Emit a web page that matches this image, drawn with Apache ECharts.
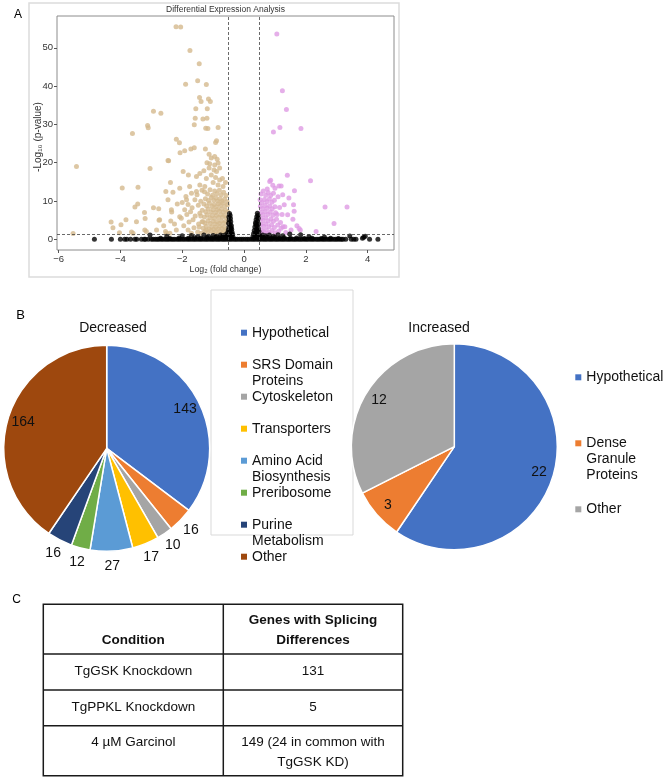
<!DOCTYPE html>
<html><head><meta charset="utf-8">
<script src="https://cdn.jsdelivr.net/npm/echarts@6/dist/echarts.min.js"></script>
<style>html,body{margin:0;padding:0;background:#fff}#chart{width:664px;height:779px}</style>
</head><body><div id="chart"></div>
<script>
// ---------- Panel A: volcano plot data (log2 fold change, -log10 p) ----------
const downPoints = [
[-5.42,19.0],[-5.53,1.5],[-2.93,33.4],[-2.69,32.9],[-3.12,29.7],[-3.10,29.1],[-3.61,27.6],
[-2.44,20.5],[-3.04,18.5],[-3.94,13.4],[-3.43,13.6],[-2.53,12.5],[-3.44,9.2],[-3.53,8.4],
[-2.93,8.2],[-2.76,8.0],[-3.22,7.0],[-3.82,5.1],[-4.30,4.5],[-3.20,5.4],[-3.48,4.6],[-3.98,3.8],
[-4.24,3.0],[-3.64,1.9],[-3.59,1.6],[-4.03,1.7],[-3.21,2.4],[-2.75,5.0],[-2.37,4.8],[-2.34,7.1],
[-2.54,2.0],[-2.51,1.6],[-3.16,2.0],[-2.83,2.4],[-2.73,5.1],[-2.46,10.3],
[-2.20,55.5],[-2.05,55.4],[-1.75,49.3],[-1.45,45.8],[-1.89,40.5],[-1.50,41.4],[-1.22,40.4],
[-1.44,37.0],[-1.39,36.0],[-1.15,36.6],[-1.09,36.0],[-1.56,34.1],[-1.19,34.1],[-1.58,31.6],
[-1.33,31.4],[-1.20,31.6],[-1.61,29.9],[-1.24,29.0],[-1.17,28.9],[-0.84,29.2],[-2.19,26.1],
[-2.09,25.2],[-0.89,25.7],[-0.92,25.3],[-1.72,23.6],[-1.61,23.9],[-2.07,22.6],[-1.92,23.1],
[-1.25,23.6],[-1.13,22.2],[-2.46,20.6],[-1.06,21.2],[-0.95,21.6],[-0.87,20.9],[-1.20,20.0],
[-1.11,19.7],[-0.95,19.4],[-0.84,19.9],[-1.97,17.7],[-1.43,17.2],[-1.30,17.9],[-1.13,18.6],
[-0.97,18.1],[-0.89,17.7],[-0.79,18.6],[-1.80,16.8],[-1.54,16.4],[-1.22,15.9],[-1.06,16.8],
[-0.92,16.1],[-0.79,15.5],[-0.70,15.9],[-2.38,14.8],[-2.08,13.3],[-1.76,13.8],[-1.43,14.2],
[-1.27,13.8],[-1.00,14.8],[-0.84,14.2],[-0.68,13.8],[-0.60,14.8],
[-2.30,12.3],[-2.16,9.2],[-1.86,10.3],[-1.81,9.1],[-1.73,7.2],[-1.59,10.3],[-1.54,12.5],
[-1.48,8.9],[-2.35,7.7],[-2.03,5.5],[-2.19,2.4],[-1.81,2.4],[-1.65,5.1],[-1.43,6.8],[-1.33,4.6],
[-1.22,2.4],[-1.70,1.6],[-2.40,1.6],[-2.08,5.9],[-1.92,7.7],
[-1.95,3.5],[-1.88,11.2],[-1.68,8.2],[-1.62,3.0],[-1.58,6.1],[-1.52,11.6],[-1.47,4.0],
[-1.40,9.9],[-1.36,12.8],[-1.70,12.0],[-1.78,4.5],[-2.00,9.6],[-2.25,4.0],[-2.60,3.5],[-1.85,6.5],
[-1.28,12.4],[-1.18,11.8],[-1.10,12.9],[-1.02,11.5],[-0.95,12.6],[-0.88,11.9],[-0.80,12.8],
[-0.74,11.6],[-0.66,12.3],[-0.58,11.4],
[-1.25,10.6],[-1.15,10.1],[-1.06,10.9],[-0.98,10.2],[-0.91,10.8],[-0.85,10.0],[-0.78,10.6],
[-0.71,9.9],[-0.63,10.5],[-0.55,9.8],
[-1.30,9.2],[-1.21,8.7],[-1.12,9.4],[-1.04,8.6],[-0.97,9.1],[-0.90,8.5],[-0.83,9.3],[-0.76,8.8],
[-0.69,9.5],[-0.62,8.6],[-0.54,9.0],
[-1.35,7.6],[-1.24,7.2],[-1.16,7.9],[-1.08,7.1],[-1.00,7.7],[-0.93,7.0],[-0.86,7.8],[-0.80,7.3],
[-0.73,7.9],[-0.67,7.1],[-0.60,7.6],[-0.53,7.2],
[-1.40,6.1],[-1.28,5.8],[-1.19,6.4],[-1.11,5.6],[-1.03,6.2],[-0.96,5.5],[-0.89,6.3],[-0.82,5.7],
[-0.75,6.4],[-0.69,5.8],[-0.62,6.2],[-0.56,5.6],
[-1.36,4.6],[-1.26,4.2],[-1.17,4.8],[-1.09,4.1],[-1.01,4.7],[-0.94,4.0],[-0.87,4.6],[-0.80,4.1],
[-0.73,4.8],[-0.66,4.2],[-0.59,4.7],[-0.52,4.3],
[-1.45,3.2],[-1.32,2.9],[-1.22,3.4],[-1.13,2.7],[-1.05,3.3],[-0.98,2.6],[-0.91,3.2],[-0.84,2.7],
[-0.78,3.4],[-0.71,2.8],[-0.64,3.3],[-0.57,2.6],
[-1.50,1.9],[-1.38,1.6],[-1.27,2.1],[-1.16,1.7],[-1.07,2.2],[-0.99,1.6],[-0.92,2.0],[-0.85,1.5],
[-0.78,2.1],[-0.71,1.6],[-0.65,2.0],[-0.58,1.5],[-0.52,1.9]
];
const upPoints = [
[1.06,53.6],[1.24,38.8],[1.37,33.9],[0.95,28.0],[1.16,29.2],[1.84,28.9],[1.40,16.7],[2.15,15.3],
[0.83,15.1],[0.86,15.4],[0.93,14.1],[1.13,13.9],[1.20,13.9],[1.63,12.7],[2.62,8.4],[3.33,8.4],
[2.91,4.1],[2.33,2.0],[1.60,9.0],[1.62,7.3],[1.58,5.2],[1.82,2.4],[1.71,3.5],[1.78,2.8],[1.41,6.4],
[1.10,11.1],[1.07,6.5],[1.23,6.5],[1.26,3.3],[1.32,3.3],
[0.55,11.8],[0.62,12.6],[0.70,11.5],[0.78,12.2],[0.86,11.4],[0.95,12.0],
[0.52,10.3],[0.58,9.6],[0.66,10.4],[0.74,9.8],[0.82,10.5],[0.90,9.7],[0.98,10.2],
[0.53,8.6],[0.60,8.0],[0.68,8.8],[0.75,8.1],[0.83,8.7],[0.91,8.0],[1.00,8.5],[1.15,8.3],
[0.54,7.0],[0.61,6.4],[0.69,7.2],[0.77,6.5],[0.85,7.1],[0.93,6.3],[1.02,6.9],
[0.55,5.4],[0.62,4.9],[0.70,5.6],[0.78,4.8],[0.87,5.3],[0.95,4.7],[1.05,5.2],[1.18,4.4],
[0.56,3.9],[0.63,3.4],[0.71,4.0],[0.80,3.3],[0.89,3.8],[0.98,3.1],[1.09,3.7],[1.20,2.9],
[0.57,2.4],[0.64,1.9],[0.72,2.5],[0.81,1.8],[0.90,2.3],[1.00,1.7],[1.12,2.1],[1.35,1.8],[1.52,2.4],
[0.60,1.5],[0.76,1.4],[1.30,9.0],[1.45,10.8],[1.25,11.6],[0.75,13.1],[1.00,13.3]
];
const nsPoints = [
[-4.84,0],[-4.29,0],[-4.00,0],[-3.86,0],[-3.79,0],[-3.67,0],[-3.53,0],[-3.47,0],[-3.32,0],[-3.23,0],
[-3.19,0],[-3.10,0],[-3.04,1.1],
[-3.00,0],[-2.94,0],[-2.87,0],[-2.81,0],[-2.75,0],[-2.68,0],[-2.62,0],[-2.55,0],[-2.49,0],[-2.43,0],
[-2.36,0],[-2.30,0],[-2.24,0],[-2.17,0],[-2.11,0],[-2.05,0],[-1.98,0],[-1.92,0],[-1.85,0],[-1.79,0],
[-1.73,0],[-1.66,0],[-1.60,0],[-1.54,0],[-1.47,0],[-1.41,0],[-1.35,0],[-1.28,0],[-1.22,0],[-1.16,0],
[-1.09,0],[-1.03,0],[-0.97,0],[-0.90,0],[-0.84,0],[-0.78,0],[-0.71,0],[-0.65,0],[-0.59,0],[-0.52,0],
[-0.46,0],[-0.40,0],[-0.33,0],[-0.27,0],[-0.21,0],[-0.14,0],[-0.08,0],[-0.02,0],[0.05,0],[0.11,0],
[0.17,0],[0.24,0],[0.30,0],[0.36,0],[0.43,0],[0.49,0],[0.55,0],[0.62,0],[0.68,0],[0.74,0],[0.81,0],
[0.87,0],[0.93,0],[1.00,0],[1.06,0],[1.12,0],[1.19,0],[1.25,0],[1.31,0],[1.38,0],[1.44,0],[1.50,0],
[1.57,0],[1.63,0],[1.69,0],[1.76,0],[1.82,0],[1.88,0],[1.95,0],[2.01,0],[2.07,0],[2.14,0],[2.20,0],
[2.26,0],[2.33,0],[2.39,0],[2.45,0],[2.52,0],[2.58,0],[2.64,0],[2.71,0],[2.77,0],[2.83,0],[2.90,0],
[2.96,0],[3.02,0],[3.09,0],[3.15,0],[3.20,0],[3.29,0],
[-2.70,0.3],[-2.40,0.2],[-2.10,0.35],[-1.80,0.25],[-1.60,0.4],[-1.40,0.3],[-1.20,0.45],[-1.05,0.3],
[-0.92,0.5],[-0.80,0.35],[-0.70,0.55],[-0.62,0.4],[-0.56,0.7],[0.58,0.6],[0.65,0.35],[0.75,0.5],
[0.88,0.3],[1.00,0.45],[1.15,0.25],[1.30,0.4],[1.50,0.3],[1.70,0.35],[1.95,0.2],[2.20,0.3],
[2.50,0.2],[2.80,0.25],[3.05,0.2],
[-2.50,0.8],[-2.00,0.9],[-1.70,1.0],[-1.50,0.7],[-1.30,1.1],[-1.15,0.8],[-1.00,1.0],[-0.88,0.8],
[-0.76,1.1],[-0.68,0.9],[-0.60,1.2],[0.60,1.1],[0.70,0.9],[0.82,1.1],[0.95,0.8],[1.10,1.2],
[1.25,0.9],[1.48,1.4],[1.83,1.2],[2.10,0.7],[2.60,0.6],[3.42,0.86],
[3.47,0],[3.55,0],[3.62,0],[3.83,0.3],[3.87,0.5],[3.92,0.8],[4.06,0],[4.33,0],
[-0.47,6.7],[-0.45,6.2],[-0.49,5.8],[-0.44,5.4],[-0.48,5.0],[-0.43,4.6],[-0.50,4.2],[-0.45,3.9],
[-0.41,3.5],[-0.49,3.2],[-0.44,2.9],[-0.40,2.6],[-0.51,2.4],[-0.46,2.1],[-0.39,1.9],[-0.53,1.7],
[-0.43,1.5],[-0.37,1.3],[-0.50,1.1],[-0.41,0.9],[-0.55,0.6],[-0.36,0.6],[-0.47,0.4],[-0.42,3.0],
[-0.47,1.8],[-0.40,1.1],
[0.43,6.8],[0.45,6.3],[0.41,5.9],[0.46,5.5],[0.39,5.1],[0.44,4.7],[0.37,4.3],[0.47,4.0],[0.41,3.6],
[0.35,3.2],[0.46,2.9],[0.40,2.6],[0.33,2.3],[0.48,2.1],[0.38,1.8],[0.31,1.5],[0.45,1.4],[0.36,1.1],
[0.29,0.8],[0.50,0.9],[0.42,0.6],[0.33,0.4],[0.52,0.4],[0.40,1.3],[0.44,2.4],[0.38,3.9]
];
const fcCutoffs = [-0.5, 0.5];
const pCutoff = 1.3;
const xTicks = [-6, -4, -2, 0, 2, 4];
const yTicks = [0, 10, 20, 30, 40, 50];

// ---------- Panel B: pie data ----------
const decCategories = ['Hypothetical','SRS Domain Proteins','Cytoskeleton','Transporters','Amino Acid Biosynthesis','Preribosome','Purine Metabolism','Other'];
const decValues = [143, 16, 10, 17, 27, 12, 16, 164];
const decLegendText = ['Hypothetical','SRS Domain\nProteins','Cytoskeleton','Transporters','Amino Acid\nBiosynthesis','Preribosome','Purine\nMetabolism','Other'];
const incCategories = ['Hypothetical','Dense Granule Proteins','Other'];
const incValues = [22, 3, 12];
const incLegendText = ['Hypothetical','Dense\nGranule\nProteins','Other'];

// ---------- Panel C: table ----------
const tableHeader = ['Condition', 'Genes with Splicing\nDifferences'];
const tableRows = [
  ['TgGSK Knockdown', '131'],
  ['TgPPKL Knockdown', '5'],
  ['4 µM Garcinol', '149 (24 in common with\nTgGSK KD)']
];

// ---------- styles ----------
const FONT = '"Liberation Sans", Arial, Helvetica, sans-serif';
const decColors = ['#4472C4','#ED7D31','#A5A5A5','#FFC000','#5B9BD5','#70AD47','#264478','#9E480E'];
const incColors = ['#4472C4','#ED7D31','#A5A5A5'];
const TAN = '#D5B98D', PINK = '#DE9BE3';
const LINE_H = 16;

const chart = echarts.init(document.getElementById('chart'), null, {renderer: 'canvas'});

const minus = v => String(v).replace('-', '\u2212');
const decCenter = [106.7, 448.3], incCenter = [454.3, 446.7], R = 103;

function pieData(cats, vals, colors, transparent) {
  return cats.map((n, i) => ({
    name: n, value: vals[i],
    itemStyle: {color: transparent ? 'rgba(0,0,0,0)' : colors[i]}
  }));
}

// Legend text: pad multi-line entries with blank lines above so that the
// first line sits level with the marker (as in the original figure)
function legendDisplay(text) {
  const n = text.split('\n').length;
  return new Array(n - 1).fill(' ').concat(text.split('\n')).join('\n');
}
function legendItems(cats, texts, colors, maxLines, override) {
  return cats.map((n, i) => {
    const lines = texts[i].split('\n').length;
    const pad = (maxLines - lines) * LINE_H;
    const item = {name: n, textStyle: {padding: [pad, 0, pad, 0]}};
    if (override) item.itemStyle = {color: colors[i], borderWidth: 0};
    return item;
  });
}

// table geometry
const tX = [43.3, 223.3, 402.7];
const tY = [604.3, 654, 690, 725.7, 775.7];
const tableGraphics = [];
tableGraphics.push({type: 'rect', shape: {x: tX[0], y: tY[0], width: tX[2] - tX[0], height: tY[4] - tY[0]},
  style: {fill: 'none', stroke: '#1a1a1a', lineWidth: 1.5}, silent: true});
tableGraphics.push({type: 'line', shape: {x1: tX[1], y1: tY[0], x2: tX[1], y2: tY[4]}, style: {stroke: '#1a1a1a', lineWidth: 1.5}, silent: true});
for (let r = 1; r <= 3; r++) {
  tableGraphics.push({type: 'line', shape: {x1: tX[0], y1: tY[r], x2: tX[2], y2: tY[r]}, style: {stroke: '#1a1a1a', lineWidth: 1.5}, silent: true});
}
tableHeader.forEach((h, c) => {
  tableGraphics.push({type: 'text', silent: true, style: {
    text: h, x: (tX[c] + tX[c + 1]) / 2, y: tY[1] - 4, align: 'center', verticalAlign: 'bottom',
    textAlign: 'center', textVerticalAlign: 'bottom', lineHeight: 19.5,
    font: 'bold 13.5px ' + FONT, fill: '#111'}});
});
tableRows.forEach((row, r) => {
  row.forEach((cell, c) => {
    const top = tY[r + 1], bot = tY[r + 2];
    const last = r === tableRows.length - 1;
    tableGraphics.push({type: 'text', silent: true, style: {
      text: cell, x: (tX[c] + tX[c + 1]) / 2,
      y: last ? top + 6.5 : (top + bot) / 2 - 0.5,
      align: 'center', verticalAlign: last ? 'top' : 'middle',
      textAlign: 'center', textVerticalAlign: last ? 'top' : 'middle',
      lineHeight: 20, font: '13.5px ' + FONT, fill: '#111'}});
  });
});

function textG(text, x, y, font, fill) {
  return {type: 'text', silent: true, style: {text, x, y, align: 'center', verticalAlign: 'middle',
    textAlign: 'center', textVerticalAlign: 'middle', font: font + ' ' + FONT, fill}};
}

const legendBase = {
  orient: 'vertical', padding: 0, icon: 'rect', itemWidth: 6, itemHeight: 6, selectedMode: false,
  itemStyle: {borderWidth: 0},
  textStyle: {fontSize: 14, color: '#111', lineHeight: LINE_H, fontFamily: FONT}
};

const option = {
  animation: false,
  backgroundColor: '#fff',
  textStyle: {fontFamily: FONT},
  grid: {left: 57, top: 16, width: 337, height: 234, show: true, borderColor: '#8c8c8c', borderWidth: 1, backgroundColor: '#fff'},
  xAxis: {
    type: 'value', min: -6.05, max: 4.85,
    name: 'Log\u2082 (fold change)', nameLocation: 'middle', nameGap: 14,
    nameTextStyle: {fontSize: 8.8, color: '#333'},
    axisLine: {show: false, onZero: false},
    axisTick: {show: true, length: 3, lineStyle: {color: '#555'}, customValues: xTicks},
    axisLabel: {fontSize: 9.5, color: '#333', margin: 4, customValues: xTicks, formatter: minus},
    splitLine: {show: false}
  },
  yAxis: {
    type: 'value', min: -2.8, max: 58.3,
    name: '-Log\u2081\u2080 (p-value)', nameLocation: 'middle', nameGap: 14, nameMoveOverlap: false,
    nameTextStyle: {fontSize: 10, color: '#333', padding: [0, 8, 0, 0]},
    axisLine: {show: false, onZero: false},
    axisTick: {show: true, length: 3, lineStyle: {color: '#555'}, customValues: yTicks},
    axisLabel: {fontSize: 9.5, color: '#333', margin: 4, customValues: yTicks},
    splitLine: {show: false}
  },
  legend: [
    Object.assign({}, legendBase, {
      left: 241, top: 308.7, itemGap: -16,
      formatter: name => legendDisplay(decLegendText[decCategories.indexOf(name)]),
      data: legendItems(decCategories, decLegendText, decColors, 2, false)
    }),
    Object.assign({}, legendBase, {
      left: 575.3, top: 337.3, itemGap: -14,
      formatter: name => legendDisplay(incLegendText[incCategories.indexOf(name)]),
      data: legendItems(incCategories, incLegendText, incColors, 3, true)
    })
  ],
  graphic: [
    {type: 'rect', shape: {x: 29, y: 3, width: 370, height: 274}, style: {fill: 'none', stroke: '#dcdcdc', lineWidth: 1.5}, silent: true, z: -1},
    textG('Differential Expression Analysis', 225.5, 10, '8.5px', '#333'),
    textG('A', 18, 15, '12px', '#000'),
    textG('B', 20.7, 315, '13px', '#000'),
    textG('C', 16.7, 600, '12px', '#000'),
    {type: 'rect', shape: {x: 211, y: 290, width: 142, height: 245}, style: {fill: 'none', stroke: '#d9d9d9', lineWidth: 1}, silent: true},
    textG('Decreased', 113, 328, '14px', '#111'),
    textG('Increased', 439, 328, '14px', '#111')
  ].concat(tableGraphics),
  series: [
    {type: 'scatter', name: 'Decreased genes', data: downPoints, symbolSize: 5, itemStyle: {color: TAN}, silent: true, z: 2},
    {type: 'scatter', name: 'Increased genes', data: upPoints, symbolSize: 5, itemStyle: {color: PINK}, silent: true, z: 2},
    {type: 'scatter', name: 'Not significant', data: nsPoints, symbolSize: 5, itemStyle: {color: '#000'}, silent: true, z: 3,
      markLine: {silent: true, symbol: 'none', animation: false,
        lineStyle: {type: [3, 2], color: '#444', width: 0.8},
        label: {show: false},
        data: [{xAxis: fcCutoffs[0]}, {xAxis: fcCutoffs[1]}, {yAxis: pCutoff}]}},
    {type: 'pie', name: 'Decreased', center: decCenter, radius: [0, R], startAngle: 90, clockwise: true,
      avoidLabelOverlap: false, silent: true,
      data: pieData(decCategories, decValues, decColors, false),
      itemStyle: {borderColor: '#fff', borderWidth: 1.5},
      label: {show: false}, labelLine: {show: false},
      emphasis: {disabled: true}},
    {type: 'pie', name: 'Increased', center: incCenter, radius: [0, R], startAngle: 90, clockwise: true,
      avoidLabelOverlap: false, silent: true,
      data: pieData(incCategories, incValues, incColors, false),
      itemStyle: {borderColor: '#fff', borderWidth: 1.5},
      label: {show: false}, labelLine: {show: false},
      emphasis: {disabled: true}},
    // label rings (transparent): large slices labelled inside, small slices just outside
    {type: 'pie', name: 'Decreased labels (inner)', center: decCenter, radius: [66, R], startAngle: 90, clockwise: true,
      avoidLabelOverlap: false, silent: true, legendHoverLink: false,
      data: pieData(decCategories, decValues, decColors, true),
      itemStyle: {borderWidth: 0},
      label: {show: true, position: 'inside', formatter: p => (p.value >= 100 ? String(p.value) : ''), fontSize: 14, color: '#111', fontFamily: FONT},
      labelLine: {show: false}, emphasis: {disabled: true}},
    {type: 'pie', name: 'Decreased labels (outer)', center: decCenter, radius: [R, R + 23], startAngle: 90, clockwise: true,
      avoidLabelOverlap: false, silent: true, legendHoverLink: false,
      data: pieData(decCategories, decValues, decColors, true),
      itemStyle: {borderWidth: 0},
      label: {show: true, position: 'inside', formatter: p => (p.value < 100 ? String(p.value) : ''), fontSize: 14, color: '#111', fontFamily: FONT},
      labelLine: {show: false}, emphasis: {disabled: true}},
    {type: 'pie', name: 'Increased labels', center: incCenter, radius: [68, R], startAngle: 90, clockwise: true,
      avoidLabelOverlap: false, silent: true, legendHoverLink: false,
      data: pieData(incCategories, incValues, incColors, true),
      itemStyle: {borderWidth: 0},
      label: {show: true, position: 'inside', formatter: p => String(p.value), fontSize: 14, color: '#111', fontFamily: FONT},
      labelLine: {show: false}, emphasis: {disabled: true}}
  ]
};
chart.setOption(option);
</script></body></html>
